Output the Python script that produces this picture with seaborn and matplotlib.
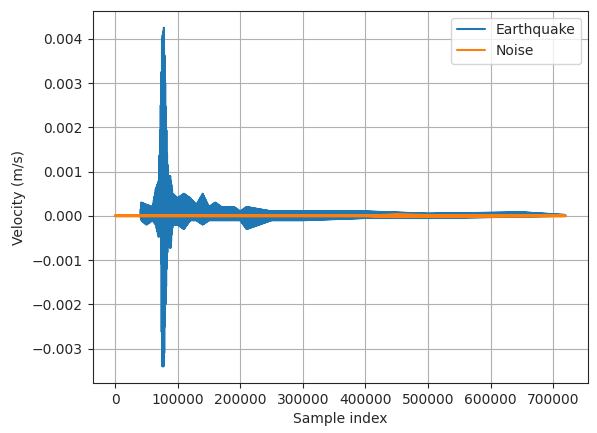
import numpy as np
import matplotlib
matplotlib.use("Agg")
import matplotlib.pyplot as plt
import seaborn as sns

# envelope readings of the earthquake trace (sample index, upper, lower) in m/s
eq_x = [0, 40000, 42000, 50000, 60000, 65000, 70000, 73000, 75000, 78000, 80000, 83000, 85000, 88000,
        92000, 100000, 110000, 120000, 130000, 140000, 150000, 160000, 170000, 190000, 200000, 210000,
        250000, 300000, 400000, 500000, 650000, 720000]
eq_up = [0, 0, 0.0003, 0.00025, 0.0002, 0.0006, 0.0008, 0.0025, 0.0040, 0.00425, 0.0030, 0.0014, 0.0009,
         0.0009, 0.0005, 0.0004, 0.0005, 0.0004, 0.00025, 0.0005, 0.0002, 0.0003, 0.0002, 0.0002, 0.0001,
         0.0002, 0.0001, 0.0001, 0.0001, 0.00005, 0.00008, 0.00002]
eq_lo = [0, 0, -0.0001, -0.0002, -0.0001, -0.0002, -0.0005, -0.0003, -0.0034, -0.0034, -0.0022, -0.0010,
         -0.0003, -0.0008, -0.0002, -0.0002, -0.0003, -0.0001, -0.0001, -0.0002, -0.0001, -0.0001, -0.0001,
         -0.0001, -0.0001, -0.0003, -0.0001, -0.0001, -0.00005, -0.00005, -0.00002, 0]
# noise envelope
nz_x = [0, 400000, 450000, 500000, 720000]
nz_up = [0.00001, 0.00001, 0.00003, 0.00002, 0.00001]
nz_lo = [-0.00001, -0.00001, -0.00003, -0.00002, -0.00001]

def zigzag(x, up, lo, step=500):
    s = np.arange(0, 720000, step)
    u = np.interp(s, x, up)
    l = np.interp(s, x, lo)
    v = np.where(np.arange(len(s)) % 2 == 0, u, l)
    return s, v

sns.set_style("ticks")
fig, ax = plt.subplots(figsize=(5.97, 4.33), dpi=100)
s, v = zigzag(eq_x, eq_up, eq_lo)
sns.lineplot(x=s, y=v, ax=ax, label="Earthquake", color="#1f77b4", linewidth=1.5, estimator=None, sort=False)
s2, v2 = zigzag(nz_x, nz_up, nz_lo)
sns.lineplot(x=s2, y=v2, ax=ax, label="Noise", color="#ff7f0e", linewidth=1.5, estimator=None, sort=False)
for sp in ax.spines.values():
    sp.set_visible(True)
ax.grid(True, color="#b0b0b0", linewidth=0.8)
ax.set_xlabel("Sample index")
ax.set_ylabel("Velocity (m/s)")
ax.legend(loc="upper right")
fig.subplots_adjust(left=0.155, right=0.985, bottom=0.115, top=0.975)
fig.savefig("out.png")
